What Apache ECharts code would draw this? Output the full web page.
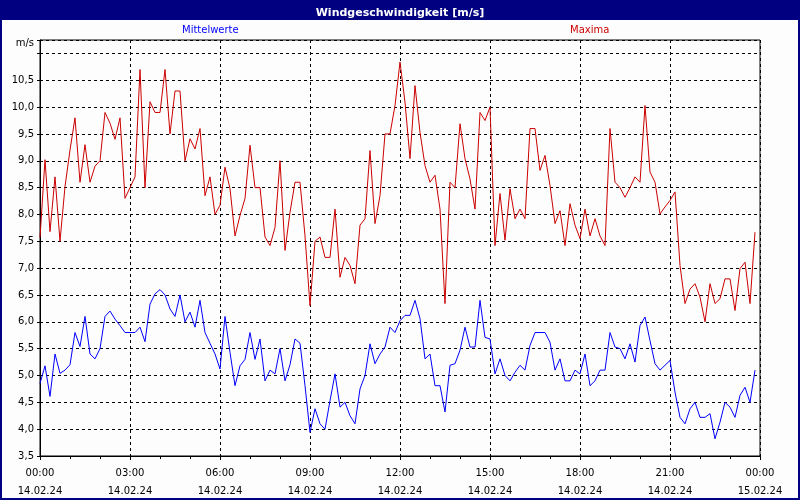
<!DOCTYPE html>
<html>
<head>
<meta charset="utf-8">
<script src="https://cdn.jsdelivr.net/npm/echarts@6/dist/echarts.min.js"></script>
<style>
  html, body { margin: 0; padding: 0; background: #fff; }
  #chart { width: 800px; height: 500px; }
</style>
</head>
<body>
<div id="chart"></div>
<script>
// 10-minute values, 00:00 .. 23:50
const maxima = [
  7.57, 9.02, 7.68, 8.70, 7.5, 8.52, 9.2, 9.8, 8.6, 9.3, 8.6, 8.9, 9.0, 9.9, 9.7, 9.4, 9.8, 8.3, 8.5, 8.7,
  10.7, 8.5, 10.1, 9.9, 9.9, 10.7, 9.5, 10.3, 10.3, 9.0,
  9.41, 9.22, 9.6, 8.35, 8.7, 8.0, 8.17, 8.88, 8.48, 7.6, 7.98, 8.3, 9.29, 8.5, 8.5, 7.58, 7.42, 7.76, 9.0, 7.33,
  8.04, 8.6, 8.6, 7.6, 6.3, 7.5, 7.58, 7.2, 7.2, 8.1,
  6.83, 7.2, 7.05, 6.71, 7.8, 7.92, 9.19, 7.83, 8.35, 9.5, 9.5, 10.03, 10.84, 10.09, 9.04, 10.4, 9.53, 8.91, 8.6, 8.73,
  8.1, 6.34, 8.6, 8.5, 9.69, 9.04, 8.66, 8.1, 9.9, 9.75,
  10.0, 7.42, 8.39, 7.52, 8.48, 7.92, 8.1, 7.92, 9.6, 9.6, 8.82, 9.1, 8.54, 7.83, 8.07, 7.42, 8.2, 7.8, 7.55, 8.1,
  7.6, 7.92, 7.6, 7.42, 9.6, 8.6, 8.5, 8.32, 8.5, 8.7,
  8.6, 10.03, 8.79, 8.6, 8.01, 8.14, 8.26, 8.42, 7.05, 6.34, 6.61, 6.71, 6.46, 6.0, 6.71, 6.34, 6.43, 6.8, 6.8, 6.21,
  6.99, 7.11, 6.34, 7.67
]
const mittelwerte = [
  4.85, 5.18, 4.61, 5.4, 5.04, 5.1, 5.2, 5.8, 5.54, 6.1, 5.4, 5.31, 5.5, 6.1, 6.2, 6.05, 5.93, 5.8, 5.8, 5.8,
  5.9, 5.63, 6.33, 6.52, 6.6, 6.5, 6.24, 6.1, 6.5, 6.0,
  6.18, 5.9, 6.4, 5.8, 5.6, 5.4, 5.12, 6.1, 5.43, 4.81, 5.18, 5.3, 5.8, 5.3, 5.68, 4.9, 5.1, 5.03, 5.5, 4.9,
  5.2, 5.68, 5.6, 4.81, 3.94, 4.38, 4.1, 4.0, 4.53, 5.03,
  4.41, 4.5, 4.25, 4.1, 4.75, 5.0, 5.59, 5.22, 5.4, 5.53, 5.9, 5.8, 6.02, 6.12, 6.12, 6.4, 6.06, 5.31, 5.4, 4.81,
  4.81, 4.32, 5.19, 5.22, 5.47, 5.9, 5.53, 5.53, 6.4, 5.71,
  5.68, 5.03, 5.31, 5.0, 4.9, 5.06, 5.19, 5.1, 5.56, 5.8, 5.8, 5.8, 5.62, 5.1, 5.31, 4.9, 4.9, 5.1, 5.03, 5.4,
  4.81, 4.9, 5.1, 5.1, 5.8, 5.53, 5.5, 5.31, 5.59, 5.25,
  5.93, 6.09, 5.65, 5.22, 5.1, 5.19, 5.28, 4.69, 4.22, 4.1, 4.38, 4.5, 4.22, 4.22, 4.29, 3.82, 4.13, 4.5, 4.41, 4.22,
  4.63, 4.78, 4.5, 5.1
]
const timeLabels = ['00:00', '03:00', '06:00', '09:00', '12:00', '15:00', '18:00', '21:00', '00:00']
const dateLabels = ['14.02.24', '14.02.24', '14.02.24', '14.02.24', '14.02.24', '14.02.24', '14.02.24', '14.02.24', '15.02.24']

const font = 'DejaVu Sans'
const toPairs = arr => arr.map((v, i) => [i * 10, v])

const chart = echarts.init(document.getElementById('chart'))
chart.setOption({
  animation: false,
  backgroundColor: '#fdfdfd',
  textStyle: { fontFamily: font },
  title: {
    text: 'Windgeschwindigkeit [m/s]',
    left: 'center',
    top: 3,
    textStyle: { color: '#fff', fontSize: 11, fontWeight: 'bold', fontFamily: font }
  },
  graphic: [
    { type: 'rect', z: -1, shape: { x: 0, y: 0, width: 800, height: 20 }, style: { fill: '#000080' } },
    { type: 'rect', z: -1, shape: { x: 1, y: 1, width: 798, height: 498 }, style: { fill: 'none', stroke: '#000080', lineWidth: 2 } },
    { type: 'text', left: 182, top: 25, style: { text: 'Mittelwerte', fill: '#0000ff', font: '10px ' + font } },
    { type: 'text', left: 570, top: 25, style: { text: 'Maxima', fill: '#cc0000', font: '10px ' + font } }
  ],
  grid: { left: 40, right: 40, top: 40, bottom: 42, show: true, borderColor: '#000', borderWidth: 1, backgroundColor: 'transparent' },
  xAxis: {
    type: 'value',
    min: 0,
    max: 1440,
    interval: 180,
    axisLine: { lineStyle: { color: '#000' } },
    axisTick: { show: true, length: 4, lineStyle: { color: '#000' } },
    minorTick: { show: true, splitNumber: 3, length: 3, lineStyle: { color: '#000' } },
    axisLabel: {
      color: '#000', fontSize: 10, lineHeight: 18, margin: 8,
      formatter: v => timeLabels[v / 180] + '\n' + dateLabels[v / 180]
    },
    splitLine: { show: true, lineStyle: { color: '#000', type: [3, 3], width: 1 } }
  },
  yAxis: {
    type: 'value',
    min: 3.5,
    max: 11.25,
    interval: 0.5,
    name: 'm/s',
    nameLocation: 'end',
    nameGap: -8,
    nameTextStyle: { color: '#000', fontSize: 10, align: 'right', padding: [0, 6, 0, 0] },
    axisLine: { show: true, lineStyle: { color: '#000' } },
    axisTick: { show: true, length: 3, lineStyle: { color: '#000' } },
    axisLabel: {
      color: '#000', fontSize: 10, margin: 6,
      formatter: v => (v > 10.6 ? '' : v.toFixed(1).replace('.', ','))
    },
    splitLine: { show: true, lineStyle: { color: '#000', type: [3, 3], width: 1 } }
  },
  series: [
    {
      name: 'Maxima', type: 'line', data: toPairs(maxima), showSymbol: false,
      lineStyle: { color: '#cc0000', width: 1 }, itemStyle: { color: '#cc0000' }
    },
    {
      name: 'Mittelwerte', type: 'line', data: toPairs(mittelwerte), showSymbol: false,
      lineStyle: { color: '#0000ff', width: 1 }, itemStyle: { color: '#0000ff' }
    }
  ]
})
</script>
</body>
</html>
